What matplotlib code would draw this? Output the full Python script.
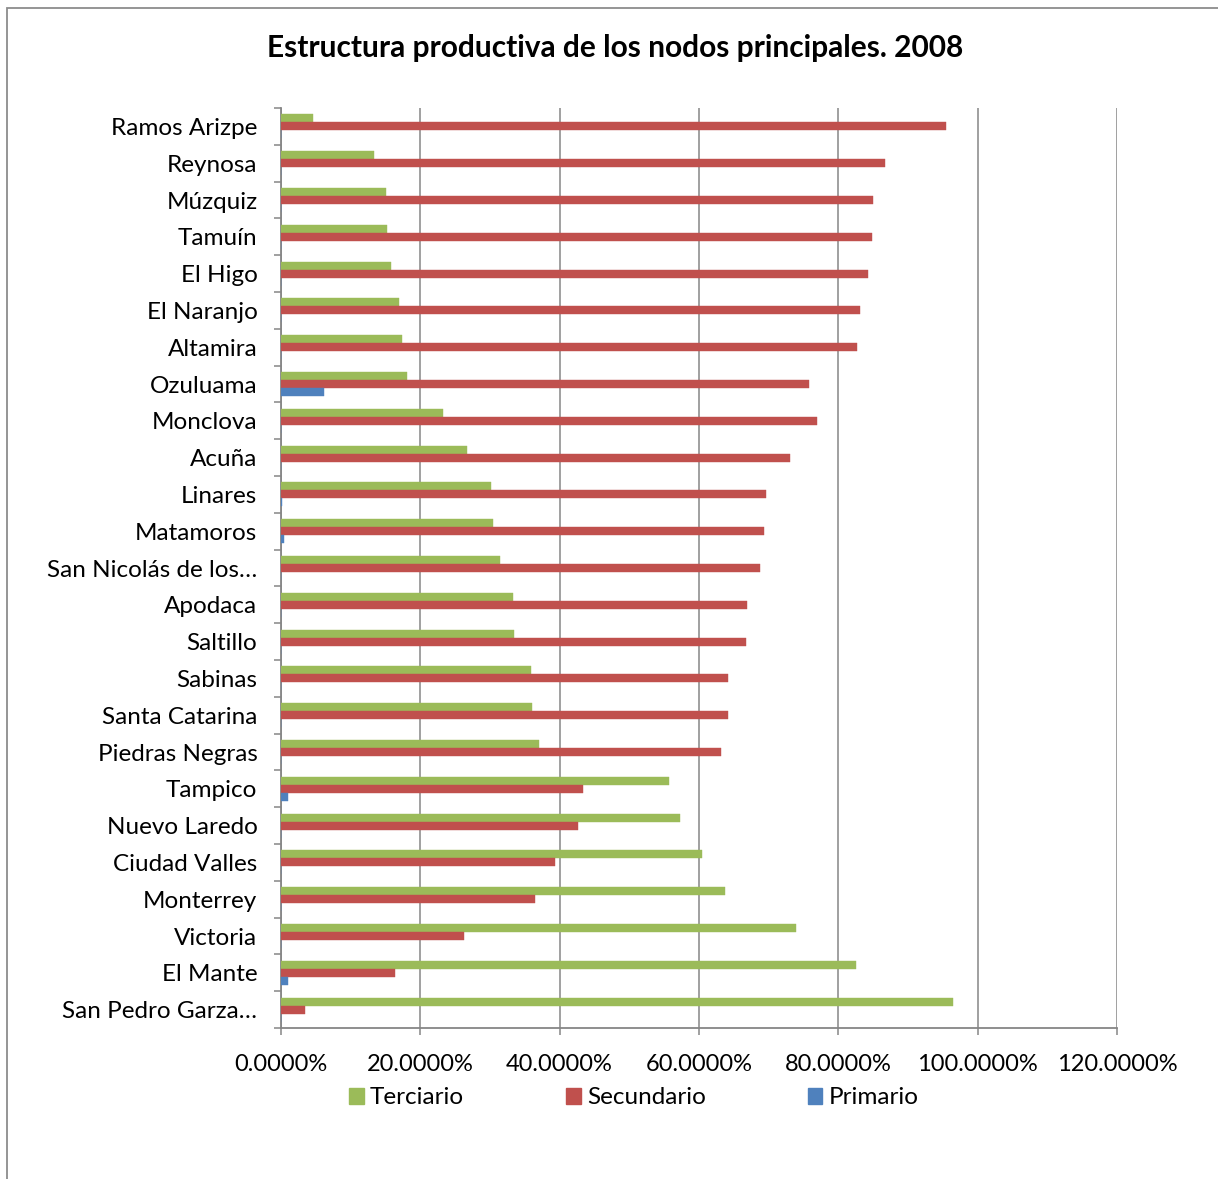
import matplotlib
matplotlib.use("Agg")
import matplotlib.pyplot as plt
import numpy as np
from matplotlib.patches import Rectangle, Patch
from matplotlib.ticker import FixedLocator

categories = ["Ramos Arizpe", "Reynosa", "Múzquiz", "Tamuín", "El Higo", "El Naranjo",
              "Altamira", "Ozuluama", "Monclova", "Acuña", "Linares", "Matamoros",
              "San Nicolás de los…", "Apodaca", "Saltillo", "Sabinas", "Santa Catarina",
              "Piedras Negras", "Tampico", "Nuevo Laredo", "Ciudad Valles", "Monterrey",
              "Victoria", "El Mante", "San Pedro Garza…"]
terciario = [4.6, 13.4, 15.05, 15.2, 15.8, 16.9, 17.3, 18.1, 23.2, 26.7, 30.1, 30.4,
             31.4, 33.3, 33.4, 35.9, 36.1, 37.0, 55.7, 57.3, 60.5, 63.7, 73.9, 82.6, 96.5]
secundario = [95.4, 86.7, 85.0, 84.8, 84.2, 83.1, 82.7, 75.8, 77.0, 73.1, 69.6, 69.3,
              68.7, 66.9, 66.8, 64.2, 64.1, 63.1, 43.3, 42.6, 39.4, 36.4, 26.2, 16.3, 3.5]
primario = [0.0, 0.0, 0.0, 0.0, 0.0, 0.0, 0.0, 6.15, 0.0, 0.0, 0.15, 0.38,
            0.0, 0.0, 0.0, 0.0, 0.0, 0.0, 0.95, 0.0, 0.0, 0.0, 0.0, 1.05, 0.0]
xticks = [0, 20, 40, 60, 80, 100, 120]
xticklabels = ["0.0000%", "20.0000%", "40.0000%", "60.0000%", "80.0000%", "100.0000%", "120.0000%"]
series_names = ["Terciario", "Secundario", "Primario"]
colors = ["#9BBB59", "#C0504D", "#4F81BD"]

plt.rcParams['font.family'] = ['Lato', 'DejaVu Sans']

W, H = 1218, 1179
fig = plt.figure(figsize=(W / 100, H / 100), dpi=100)
ax = fig.add_axes([281 / W, 1 - 1028 / H, (1117 - 281) / W, (1028 - 108) / H])

n = len(categories)
y = np.arange(n)
bh = 0.217
for vals, off, c in zip([terciario, secundario, primario], [-bh, 0, bh], colors):
    ax.barh(y + off, vals, height=bh, color=c, edgecolor=c, linewidth=0.3, zorder=3)

ax.set_xlim(0, 120)
ax.set_ylim(n - 0.5, -0.5)

ax.set_xticks(xticks)
ax.set_xticklabels(xticklabels, fontsize=17)
ax.xaxis.grid(True, color="#868686", linewidth=1.1, zorder=0)

ax.yaxis.set_major_locator(FixedLocator(np.arange(n + 1) - 0.5))
ax.yaxis.set_major_formatter(plt.NullFormatter())
ax.yaxis.set_minor_locator(FixedLocator(y))
ax.set_yticklabels(categories, minor=True, fontsize=17.5)
ax.tick_params(axis='y', which='major', length=5, width=1.1, color="#868686", direction='out')
ax.tick_params(axis='y', which='minor', length=0, pad=17)
ax.tick_params(axis='x', which='major', length=5, width=1.1, color="#868686", direction='out', pad=14)

for s in ['top', 'right']:
    ax.spines[s].set_visible(False)
for s in ['left', 'bottom']:
    ax.spines[s].set_color("#868686")
    ax.spines[s].set_linewidth(1.3)

fig.text(615 / W, 1 - 48 / H, "Estructura productiva de los nodos principales. 2008",
         ha='center', va='center', fontsize=21.5, fontweight='bold')

handles = [Patch(facecolor=c, edgecolor=c) for c in colors]
fig.legend(handles, series_names, loc='center', bbox_to_anchor=(634 / W, 1 - 1098 / H),
           ncol=3, frameon=False, fontsize=17.5, handlelength=0.6, handleheight=0.6,
           handletextpad=0.25, columnspacing=4.2)

fig.patches.append(Rectangle((7 / W, -0.01), 1.1, (1 - 8 / H) + 0.01, transform=fig.transFigure,
                             fill=False, edgecolor="#8c8c8c", linewidth=1.3))

fig.savefig("out.png", dpi=100)
